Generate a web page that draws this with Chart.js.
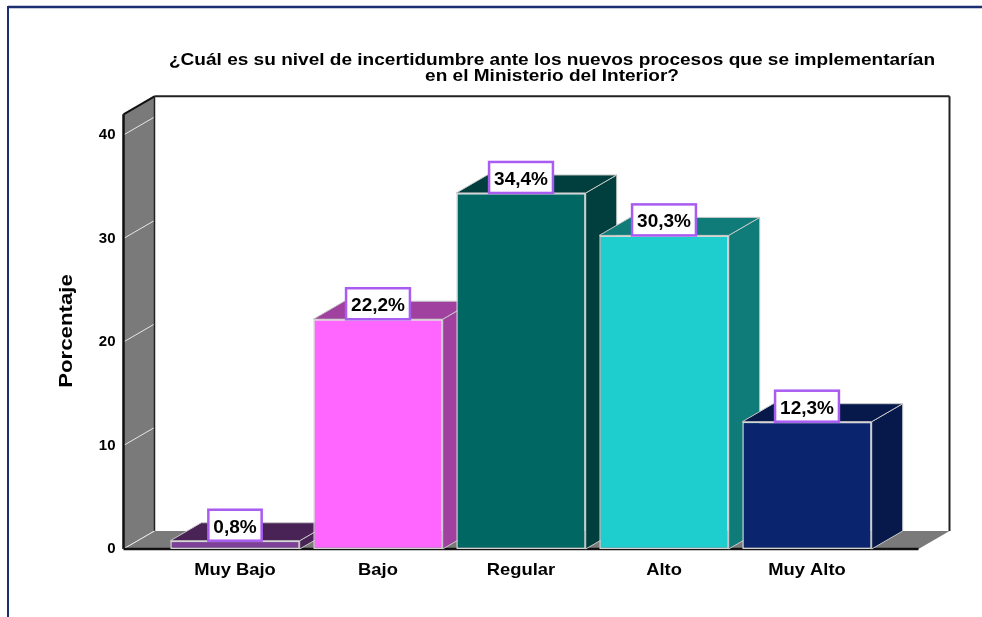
<!DOCTYPE html>
<html>
<head>
<meta charset="utf-8">
<script src="https://cdn.jsdelivr.net/npm/chart.js@4.4.1/dist/chart.umd.min.js"></script>
<style>
  body { margin: 0; background: #fff; }
  canvas { display: block; }
</style>
</head>
<body>
<canvas id="grafico" width="982" height="617"></canvas>
<script>
const categorias = ['Muy Bajo', 'Bajo', 'Regular', 'Alto', 'Muy Alto'];
const porcentajes = [0.8, 22.2, 34.4, 30.3, 12.3];
const ticksY = [0, 10, 20, 30, 40];
const tituloLineas = [
  '¿Cuál es su nivel de incertidumbre ante los nuevos procesos que se implementarían',
  'en el Ministerio del Interior?'
];
const tituloEjeY = 'Porcentaje';
const coloresFrente = ['#7d3f98', '#ff66ff', '#016762', '#1ecece', '#0a246e'];
const coloresLado = ['#4a2356', '#a0409f', '#003f3e', '#0f7c79', '#06194a'];

const PROF_X = 31, PROF_Y = -18; // profundidad del efecto 3D
const MARGEN = 40;               // piso sobrante a cada lado de las barras
const FUENTE = '"Liberation Sans", Arial, sans-serif';

function poligono(ctx, pts, relleno, borde, grosor) {
  ctx.beginPath();
  ctx.moveTo(pts[0][0], pts[0][1]);
  for (let i = 1; i < pts.length; i++) ctx.lineTo(pts[i][0], pts[i][1]);
  ctx.closePath();
  if (relleno) { ctx.fillStyle = relleno; ctx.fill(); }
  if (borde) { ctx.strokeStyle = borde; ctx.lineWidth = grosor || 1; ctx.stroke(); }
}

function linea(ctx, x1, y1, x2, y2, color, grosor) {
  ctx.beginPath();
  ctx.moveTo(x1, y1);
  ctx.lineTo(x2, y2);
  ctx.strokeStyle = color;
  ctx.lineWidth = grosor;
  ctx.stroke();
}

// texto centrado y estirado en horizontal (las fuentes del SPSS salen mas anchas)
function textoAncho(ctx, texto, cx, cy, estirar) {
  ctx.save();
  ctx.translate(cx, cy);
  ctx.scale(estirar, 1);
  ctx.textAlign = 'center';
  ctx.fillText(texto, 0, 0);
  ctx.restore();
}

const marco3d = {
  id: 'marco3d',
  beforeDatasetsDraw(chart) {
    const { ctx, chartArea: a, scales: { y } } = chart;
    const x0 = a.left - MARGEN, x1 = a.right + MARGEN;
    const base = y.getPixelForValue(0), tope = a.top;
    ctx.save();

    // pared del fondo
    ctx.fillStyle = '#fff';
    ctx.fillRect(x0 + PROF_X, tope + PROF_Y, x1 - x0, base - tope);
    linea(ctx, x0 + PROF_X, tope + PROF_Y, x1 + PROF_X, tope + PROF_Y, '#222', 2);
    linea(ctx, x1 + PROF_X, tope + PROF_Y, x1 + PROF_X, base + PROF_Y, '#222', 2);

    // pared lateral izquierda con sus lineas de referencia
    poligono(ctx, [[x0, tope], [x0 + PROF_X, tope + PROF_Y], [x0 + PROF_X, base + PROF_Y], [x0, base]], '#7a7a7a');
    ticksY.forEach(v => {
      const py = y.getPixelForValue(v);
      linea(ctx, x0, py, x0 + PROF_X, py + PROF_Y, '#e6e6e6', 1);
    });
    linea(ctx, x0, base, x0, tope, '#111', 2.5);
    linea(ctx, x0, tope, x0 + PROF_X, tope + PROF_Y, '#111', 2);
    linea(ctx, x0 + PROF_X, tope + PROF_Y, x0 + PROF_X, base + PROF_Y, '#222', 1.5);

    // piso
    poligono(ctx, [[x0, base], [x1, base], [x1 + PROF_X, base + PROF_Y], [x0 + PROF_X, base + PROF_Y]], '#7a7a7a');
    linea(ctx, x0, base, x0 + PROF_X, base + PROF_Y, '#e6e6e6', 1);
    linea(ctx, x0, base, x1, base, '#111', 2.5);

    // caras laterales y superiores de las barras
    chart.getDatasetMeta(0).data.forEach((el, i) => {
      const izq = el.x - el.width / 2, der = el.x + el.width / 2;
      const arriba = el.y, abajo = el.base;
      const c = coloresLado[i];
      poligono(ctx, [[der, arriba], [der + PROF_X, arriba + PROF_Y], [der + PROF_X, abajo + PROF_Y], [der, abajo]], c, '#c8c8c8', 1);
      poligono(ctx, [[izq, arriba], [izq + PROF_X, arriba + PROF_Y], [der + PROF_X, arriba + PROF_Y], [der, arriba]], c, '#c8c8c8', 1);
    });
    ctx.restore();
  },
  afterDatasetsDraw(chart) {
    const { ctx } = chart;
    ctx.save();
    ctx.font = 'bold 19px ' + FUENTE;
    ctx.textAlign = 'center';
    ctx.textBaseline = 'alphabetic';
    chart.getDatasetMeta(0).data.forEach((el, i) => {
      const texto = porcentajes[i].toFixed(1).replace('.', ',') + '%';
      const ancho = ctx.measureText(texto).width + 10;
      const alto = 31;
      ctx.fillStyle = '#fff';
      ctx.fillRect(el.x - ancho / 2, el.y - alto, ancho, alto);
      ctx.strokeStyle = '#a95cf2';
      ctx.lineWidth = 2.5;
      ctx.strokeRect(el.x - ancho / 2, el.y - alto, ancho, alto);
      ctx.fillStyle = '#000';
      ctx.fillText(texto, el.x, el.y - 8);
    });
    ctx.restore();
  },
  afterDraw(chart) {
    const { ctx, chartArea: a, scales: { x, y } } = chart;
    ctx.save();
    ctx.fillStyle = '#000';

    // titulo
    ctx.font = 'bold 17px ' + FUENTE;
    tituloLineas.forEach((t, i) => textoAncho(ctx, t, 552, 65 + i * 16, 1.12));

    // etiquetas del eje Y
    ctx.font = 'bold 15px ' + FUENTE;
    ctx.textAlign = 'right';
    ctx.textBaseline = 'middle';
    ticksY.forEach(v => ctx.fillText(String(v), a.left - MARGEN - 8, y.getPixelForValue(v)));

    // categorias
    ctx.font = 'bold 17px ' + FUENTE;
    ctx.textBaseline = 'alphabetic';
    categorias.forEach((c, i) => textoAncho(ctx, c, x.getPixelForValue(i), 575, 1.08));

    // titulo del eje Y
    ctx.translate(67, 331);
    ctx.rotate(-Math.PI / 2);
    ctx.font = 'bold 19px ' + FUENTE;
    ctx.textBaseline = 'middle';
    textoAncho(ctx, tituloEjeY, 0, 0, 1.17);
    ctx.restore();

    // recuadro de la figura
    ctx.save();
    linea(ctx, 8, 7, 982, 7, '#1c2f70', 2.5);
    linea(ctx, 8, 6, 8, 617, '#1c2f70', 2);
    ctx.restore();
  }
};

new Chart(document.getElementById('grafico'), {
  type: 'bar',
  data: {
    labels: categorias,
    datasets: [{
      data: porcentajes,
      backgroundColor: coloresFrente,
      borderColor: '#d4d4d4',
      borderWidth: 1.5,
      borderSkipped: false,
      categoryPercentage: 1,
      barPercentage: 0.905
    }]
  },
  options: {
    responsive: false,
    animation: false,
    devicePixelRatio: 1,
    layout: { padding: { left: 163.5, right: 103.5, top: 114.3, bottom: 68 } },
    scales: {
      x: { display: false },
      y: { display: false, min: 0, max: 42 }
    },
    plugins: {
      legend: { display: false },
      tooltip: { enabled: false }
    }
  },
  plugins: [marco3d]
});
</script>
</body>
</html>
